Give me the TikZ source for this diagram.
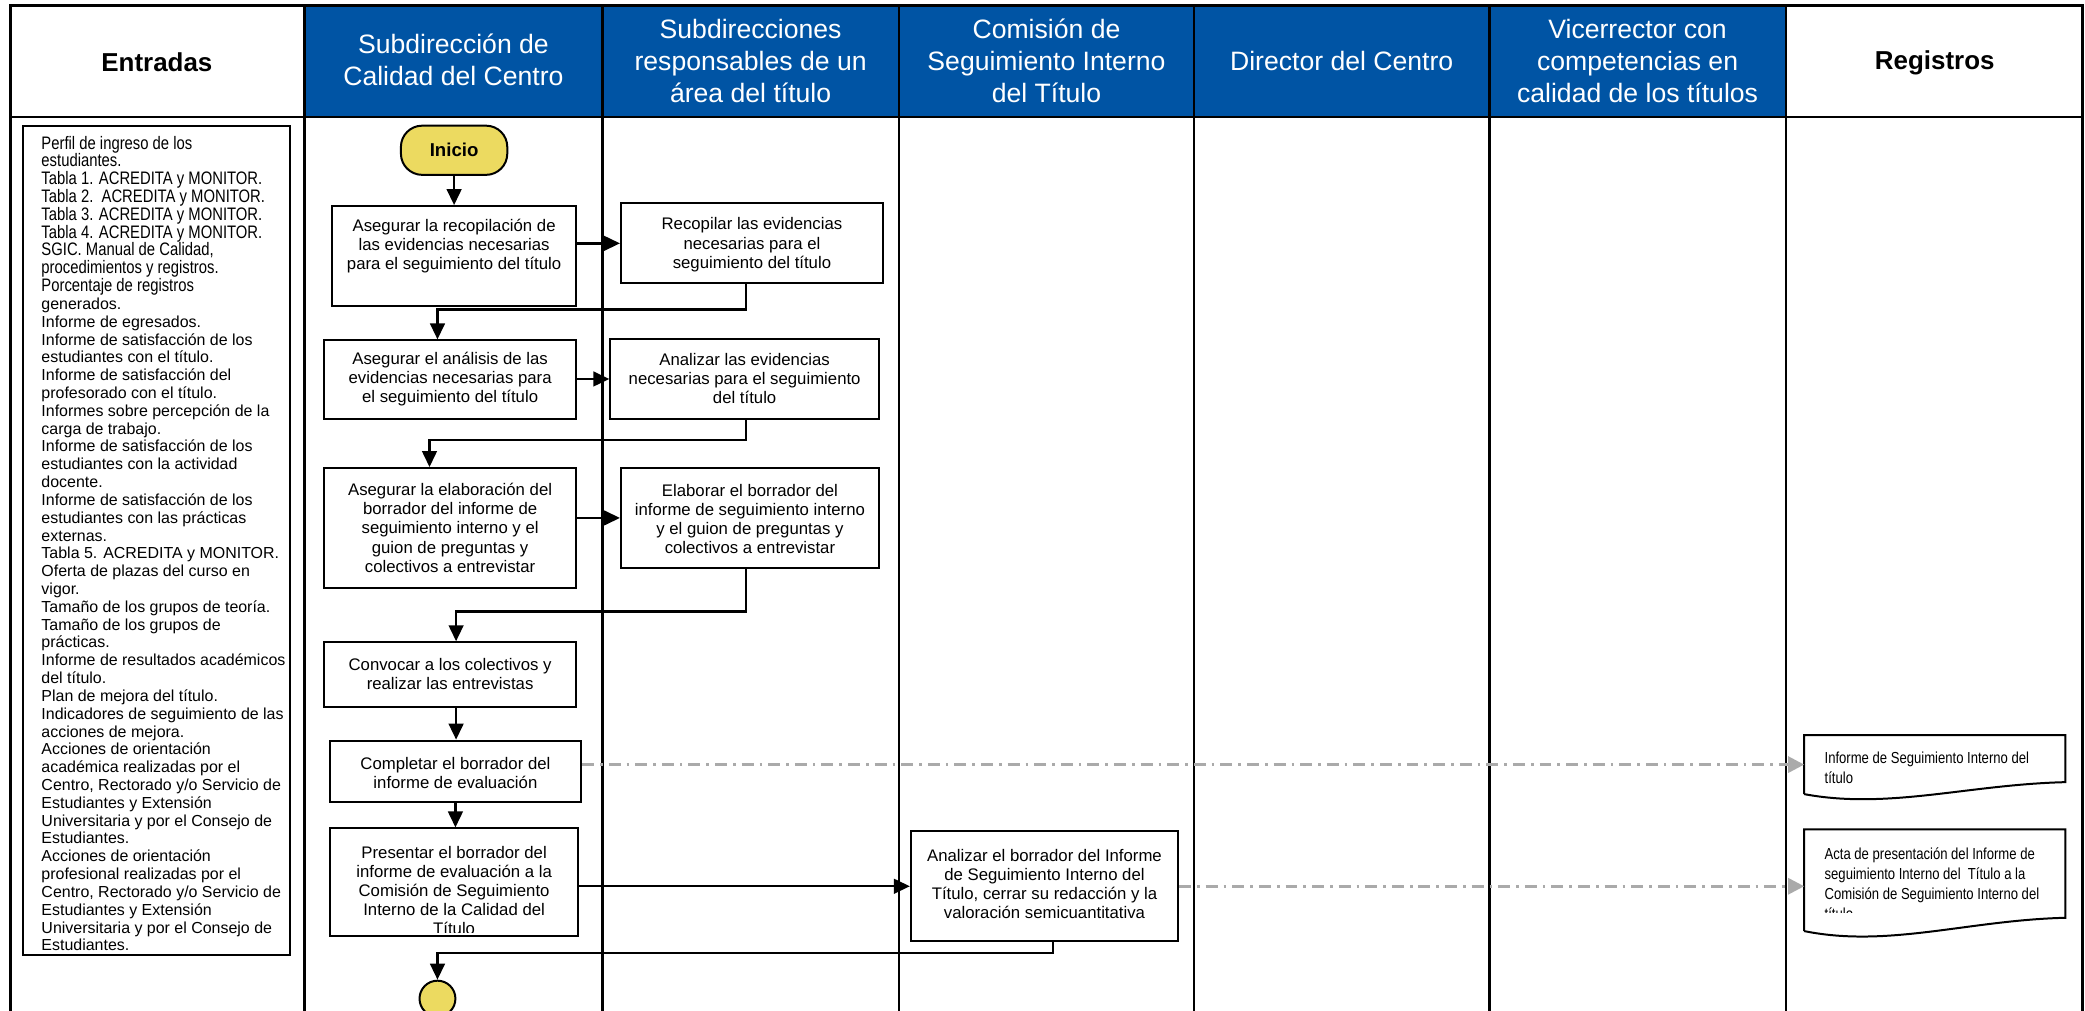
\documentclass[tikz,border=0pt]{standalone}
\usepackage{fontspec}
\setmainfont{Liberation Sans}
\newfontfamily\narrowfont[FakeStretch=0.82]{Liberation Sans}
\usetikzlibrary{arrows.meta}
\definecolor{hdrblue}{RGB}{0,84,164}
\definecolor{startyellow}{RGB}{236,218,96}
\definecolor{regline}{RGB}{170,170,170}
\newcommand{\nar}{\narrowfont\fontsize{13.6}{13.4}\selectfont}
\begin{document}
\begin{tikzpicture}[x=1pt,y=-1pt,
  lane/.style={line width=2pt,black},
  hdr/.style={align=center,text=white,font=\fontsize{20}{24}\selectfont,inner sep=0pt},
  hdrb/.style={align=center,text=black,font=\bfseries\fontsize{19.5}{24}\selectfont,inner sep=0pt},
  procbox/.style={draw=black,line width=1.5pt,inner sep=0pt},
  proctext/.style={align=center,font=\fontsize{12.6}{14.3}\selectfont,inner sep=0pt},
  flow/.style={line width=1.8pt,-{Triangle[length=12pt,width=11pt]}},
  regflow/.style={line width=2.2pt,regline,dash pattern=on 9pt off 4.5pt on 2pt off 4.5pt,-{Triangle[length=12pt,width=12pt]}},
  docline/.style={line width=1.5pt,black},
  doctext/.style={align=left,font=\narrowfont\fontsize{12}{15.2}\selectfont,inner sep=0pt,anchor=north west}
]
\clip (0,0) rectangle (1568,760);
\useasboundingbox (0,0) rectangle (1568,760);

% header band
\fill[hdrblue] (229,4) rectangle (1343,88);
\draw[lane] (8,4) rectangle (1566,900);
\draw[lane] (8,88) -- (1566,88);
\foreach \xx in {229,453,676,898,1120,1343} \draw[lane] (\xx,4) -- (\xx,900);

\node[hdrb] (hentr) at (118,47) {Entradas};
\node[hdr] (hsub) at (341,45) {Subdirección de\\Calidad del Centro};
\node[hdr] (hresp) at (564.5,46) {Subdirecciones\\responsables de un\\área del título};
\node[hdr] (hcom) at (787,46) {Comisión de\\Seguimiento Interno\\del Título};
\node[hdr] (hdir) at (1009,46) {Director del Centro};
\node[hdr] (hvic) at (1231.5,46) {Vicerrector con\\competencias en\\calidad de los títulos};
\node[hdrb] (hreg) at (1455,47) {Registros};

% entradas
\node[draw=black,line width=1.5pt,minimum width=201pt,minimum height=623pt,inner sep=0pt] (inbox) at (117.5,406.5) {};
\node[anchor=north west,align=left,inner sep=0pt,font=\fontsize{12}{13.4}\selectfont] (intext) at (31,102) {%
{\nar Perfil de ingreso de los}\\
{\nar estudiantes.}\\
{\nar Tabla 1. ACREDITA y MONITOR.}\\
{\nar Tabla 2.\ \ ACREDITA y MONITOR.}\\
{\nar Tabla 3. ACREDITA y MONITOR.}\\
{\nar Tabla 4. ACREDITA y MONITOR.}\\
{\nar SGIC. Manual de Calidad,}\\
{\nar procedimientos y registros.}\\
{\nar Porcentaje de registros}\\
generados.\\
Informe de egresados.\\
Informe de satisfacción de los\\
estudiantes con el título.\\
Informe de satisfacción del\\
profesorado con el título.\\
Informes sobre percepción de la\\
carga de trabajo.\\
Informe de satisfacción de los\\
estudiantes con la actividad\\
docente.\\
Informe de satisfacción de los\\
estudiantes con las prácticas\\
externas.\\
Tabla 5. ACREDITA y MONITOR.\\
Oferta de plazas del curso en\\
vigor.\\
Tamaño de los grupos de teoría.\\
Tamaño de los grupos de\\
prácticas.\\
Informe de resultados académicos\\
del título.\\
Plan de mejora del título.\\
Indicadores de seguimiento de las\\
acciones de mejora.\\
Acciones de orientación\\
académica realizadas por el\\
Centro, Rectorado y/o Servicio de\\
Estudiantes y Extensión\\
Universitaria y por el Consejo de\\
Estudiantes.\\
Acciones de orientación\\
profesional realizadas por el\\
Centro, Rectorado y/o Servicio de\\
Estudiantes y Extensión\\
Universitaria y por el Consejo de\\
Estudiantes.};

% start / end
\node[draw=black,line width=1.5pt,fill=startyellow,rounded corners=16pt,minimum width=80pt,minimum height=37pt,inner sep=0pt,font=\bfseries\fontsize{14}{16}\selectfont] (ini) at (341.5,113) {Inicio};
\node[draw=black,line width=1.5pt,fill=startyellow,circle,minimum size=27pt,inner sep=0pt] (fin) at (329,751) {};

% process boxes
\node[procbox,minimum width=183pt,minimum height=75pt] (a1) at (341.5,192.5) {};
\node[proctext] at (341.5,185) {Asegurar la recopilación de\\las evidencias necesarias\\para el seguimiento del título};
\node[procbox,minimum width=197pt,minimum height=60pt] (b1) at (565.5,183) {};
\node[proctext] at (565.5,184) {Recopilar las evidencias\\necesarias para el\\seguimiento del título};
\node[procbox,minimum width=189pt,minimum height=59pt] (a2) at (338.5,285.5) {};
\node[proctext] at (338.5,285) {Asegurar el análisis de las\\evidencias necesarias para\\el seguimiento del título};
\node[procbox,minimum width=202pt,minimum height=60pt] (b2) at (560,285) {};
\node[proctext] at (560,285) {Analizar las evidencias\\necesarias para el seguimiento\\del título};
\node[procbox,minimum width=189pt,minimum height=90pt] (a3) at (338.5,397) {};
\node[proctext] at (338.5,397) {Asegurar la elaboración del\\borrador del informe de\\seguimiento interno y el\\guion de preguntas y\\colectivos a entrevistar};
\node[procbox,minimum width=194pt,minimum height=75pt] (b3) at (564,389.5) {};
\node[proctext] at (564,390) {Elaborar el borrador del\\informe de seguimiento interno\\y el guion de preguntas y\\colectivos a entrevistar};
\node[procbox,minimum width=189pt,minimum height=49pt] (a4) at (338.5,507.5) {};
\node[proctext] at (338.5,507) {Convocar a los colectivos y\\realizar las entrevistas};
\node[procbox,minimum width=189pt,minimum height=46pt] (a5) at (342.5,580) {};
\node[proctext] at (342.5,581) {Completar el borrador del\\informe de evaluación};
\node[procbox,minimum width=187pt,minimum height=81pt] (a6) at (341.5,663.5) {};
\begin{scope}
\clip (249,624) rectangle (434,701);
\node[proctext] at (341.5,670) {Presentar el borrador del\\informe de evaluación a la\\Comisión de Seguimiento\\Interno de la Calidad del\\Título};
\end{scope}
\node[procbox,minimum width=201pt,minimum height=83pt] (c1) at (785.5,666.5) {};
\node[proctext] at (785.5,665) {Analizar el borrador del Informe\\de Seguimiento Interno del\\Título, cerrar su redacción y la\\valoración semicuantitativa};

% records (documents)
\node[minimum width=196pt,minimum height=44pt,inner sep=0pt] (r1) at (1455,575) {};
\draw[docline] (r1.south west) -- (r1.north west) -- (r1.north east) -- ([yshift=9pt]r1.south east)
  .. controls (1480,590) and (1420,609) .. (r1.south west);
\node[doctext] at (1372,565) {Informe de Seguimiento Interno del\\título};
\node[minimum width=196pt,minimum height=76pt,inner sep=0pt] (r2) at (1455,662) {};
\draw[docline] (r2.south west) -- (r2.north west) -- (r2.north east) -- ([yshift=10pt]r2.south east)
  .. controls (1480,692) and (1420,713) .. (r2.south west);
\begin{scope}
\clip (1358,625) rectangle (1552,686.5);
\node[doctext] at (1372,637) {Acta de presentación del Informe de\\seguimiento Interno del\ \ Título a la\\Comisión de Seguimiento Interno del\\título};
\end{scope}

% connectors
\draw[flow] (ini.south) -- (ini.south |- a1.north);
\draw[flow] (a1.east |- b1.west) -- (b1.west);
\draw[flow] ([xshift=-4.5pt]b1.south) -- ++(0,19) -| ([xshift=-9.5pt]a2.north);
\draw[flow] (a2.east |- b2.west) -- (b2.west);
\draw[flow] ([xshift=1pt]b2.south) -- ++(0,15) -| ([xshift=-15.5pt]a3.north);
\draw[flow] (a3.east |- b3.west) -- (b3.west);
\draw[flow] ([xshift=-3pt]b3.south) -- ++(0,32) -| ([xshift=4.5pt]a4.north);
\draw[flow] ([xshift=4.5pt]a4.south) -- ([xshift=4.5pt]a4.south |- a5.north);
\draw[flow] (a5.south) -- (a5.south |- a6.north);
\draw[flow] (a6.east |- c1.west) -- (c1.west);
\draw[flow] ([xshift=6.5pt]c1.south) -- ++(0,8) -| (fin.north);
\draw[regflow] (a5.east |- r1.west) -- (r1.west);
\draw[regflow] (c1.east) -- (c1.east -| r2.west);
\end{tikzpicture}
\end{document}
